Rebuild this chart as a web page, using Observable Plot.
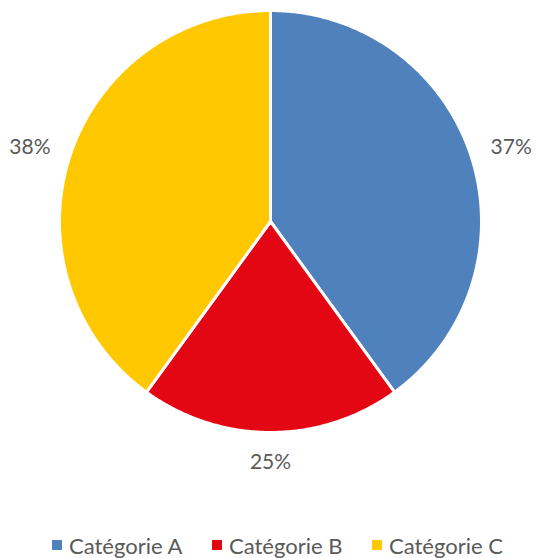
<!DOCTYPE html>
<html>
<head>
<meta charset="utf-8">
<script src="https://cdn.jsdelivr.net/npm/d3@7"></script>
<script src="https://cdn.jsdelivr.net/npm/@observablehq/plot@0.6"></script>
<style>
  html, body { margin: 0; padding: 0; background: #fff; }
  #chart { width: 536px; }
  #legend { position: relative; width: 536px; height: 38px; font-family: Lato, "Open Sans", sans-serif; font-size: 22px; color: #595959; }
  .item { position: absolute; top: 6px; height: 38px; display: flex; align-items: center; }
  .sw { width: 10px; height: 10px; margin-right: 7px; }
</style>
</head>
<body>
<div id="chart"></div>
<div id="legend"></div>
<script>
const categories = ["Catégorie A", "Catégorie B", "Catégorie C"];
const values = [40, 20, 40];
const labels = ["37%", "25%", "38%"];
const colors = ["#4F81BD", "#E30613", "#FFC800"];

const R = 211; // pixel radius
const arcs = d3.pie().sort(null).value(d => d)(values);

const slicePts = [];
arcs.forEach((a, i) => {
  slicePts.push({cat: categories[i], x: 0, y: 0});
  const n = Math.max(2, Math.ceil((a.endAngle - a.startAngle) / (Math.PI / 360)));
  for (let k = 0; k <= n; k++) {
    const t = a.startAngle + (a.endAngle - a.startAngle) * k / n;
    slicePts.push({cat: categories[i], x: Math.sin(t), y: Math.cos(t)});
  }
  slicePts.push({cat: categories[i], x: 0, y: 0});
});

const lr = 233 / R;
const labelData = arcs.map((a, i) => {
  const m = (a.startAngle + a.endAngle) / 2;
  return {
    label: labels[i],
    x: lr * Math.sin(m) + Math.sin(m) * 20 / R,
    y: lr * Math.cos(m) + Math.cos(m) * 8 / R
  };
});

const plot = Plot.plot({
  width: 536,
  height: 520,
  margin: 0,
  x: {domain: [-1, 1], range: [270 - R, 270 + R], axis: null},
  y: {domain: [-1, 1], range: [221 + R, 221 - R], axis: null},
  color: {domain: categories, range: colors},
  style: {fontFamily: "Lato, 'Open Sans', sans-serif", background: "#fff"},
  marks: [
    Plot.line(slicePts, {x: "x", y: "y", z: "cat", fill: "cat", stroke: "white", strokeWidth: 3, strokeLinejoin: "round", curve: "linear"}),
    Plot.text(labelData, {x: "x", y: "y", text: "label", fontSize: 21, fill: "#595959", textAnchor: "middle", lineAnchor: "middle"})
  ]
});
document.getElementById("chart").appendChild(plot);

const legend = document.getElementById("legend");
categories.forEach((c, i) => {
  const it = document.createElement("div");
  it.className = "item";
  it.style.left = (52 + 160 * i) + "px";
  const sw = document.createElement("div");
  sw.className = "sw";
  sw.style.background = colors[i];
  const tx = document.createElement("span");
  tx.textContent = c;
  it.appendChild(sw);
  it.appendChild(tx);
  legend.appendChild(it);
});
</script>
</body>
</html>
